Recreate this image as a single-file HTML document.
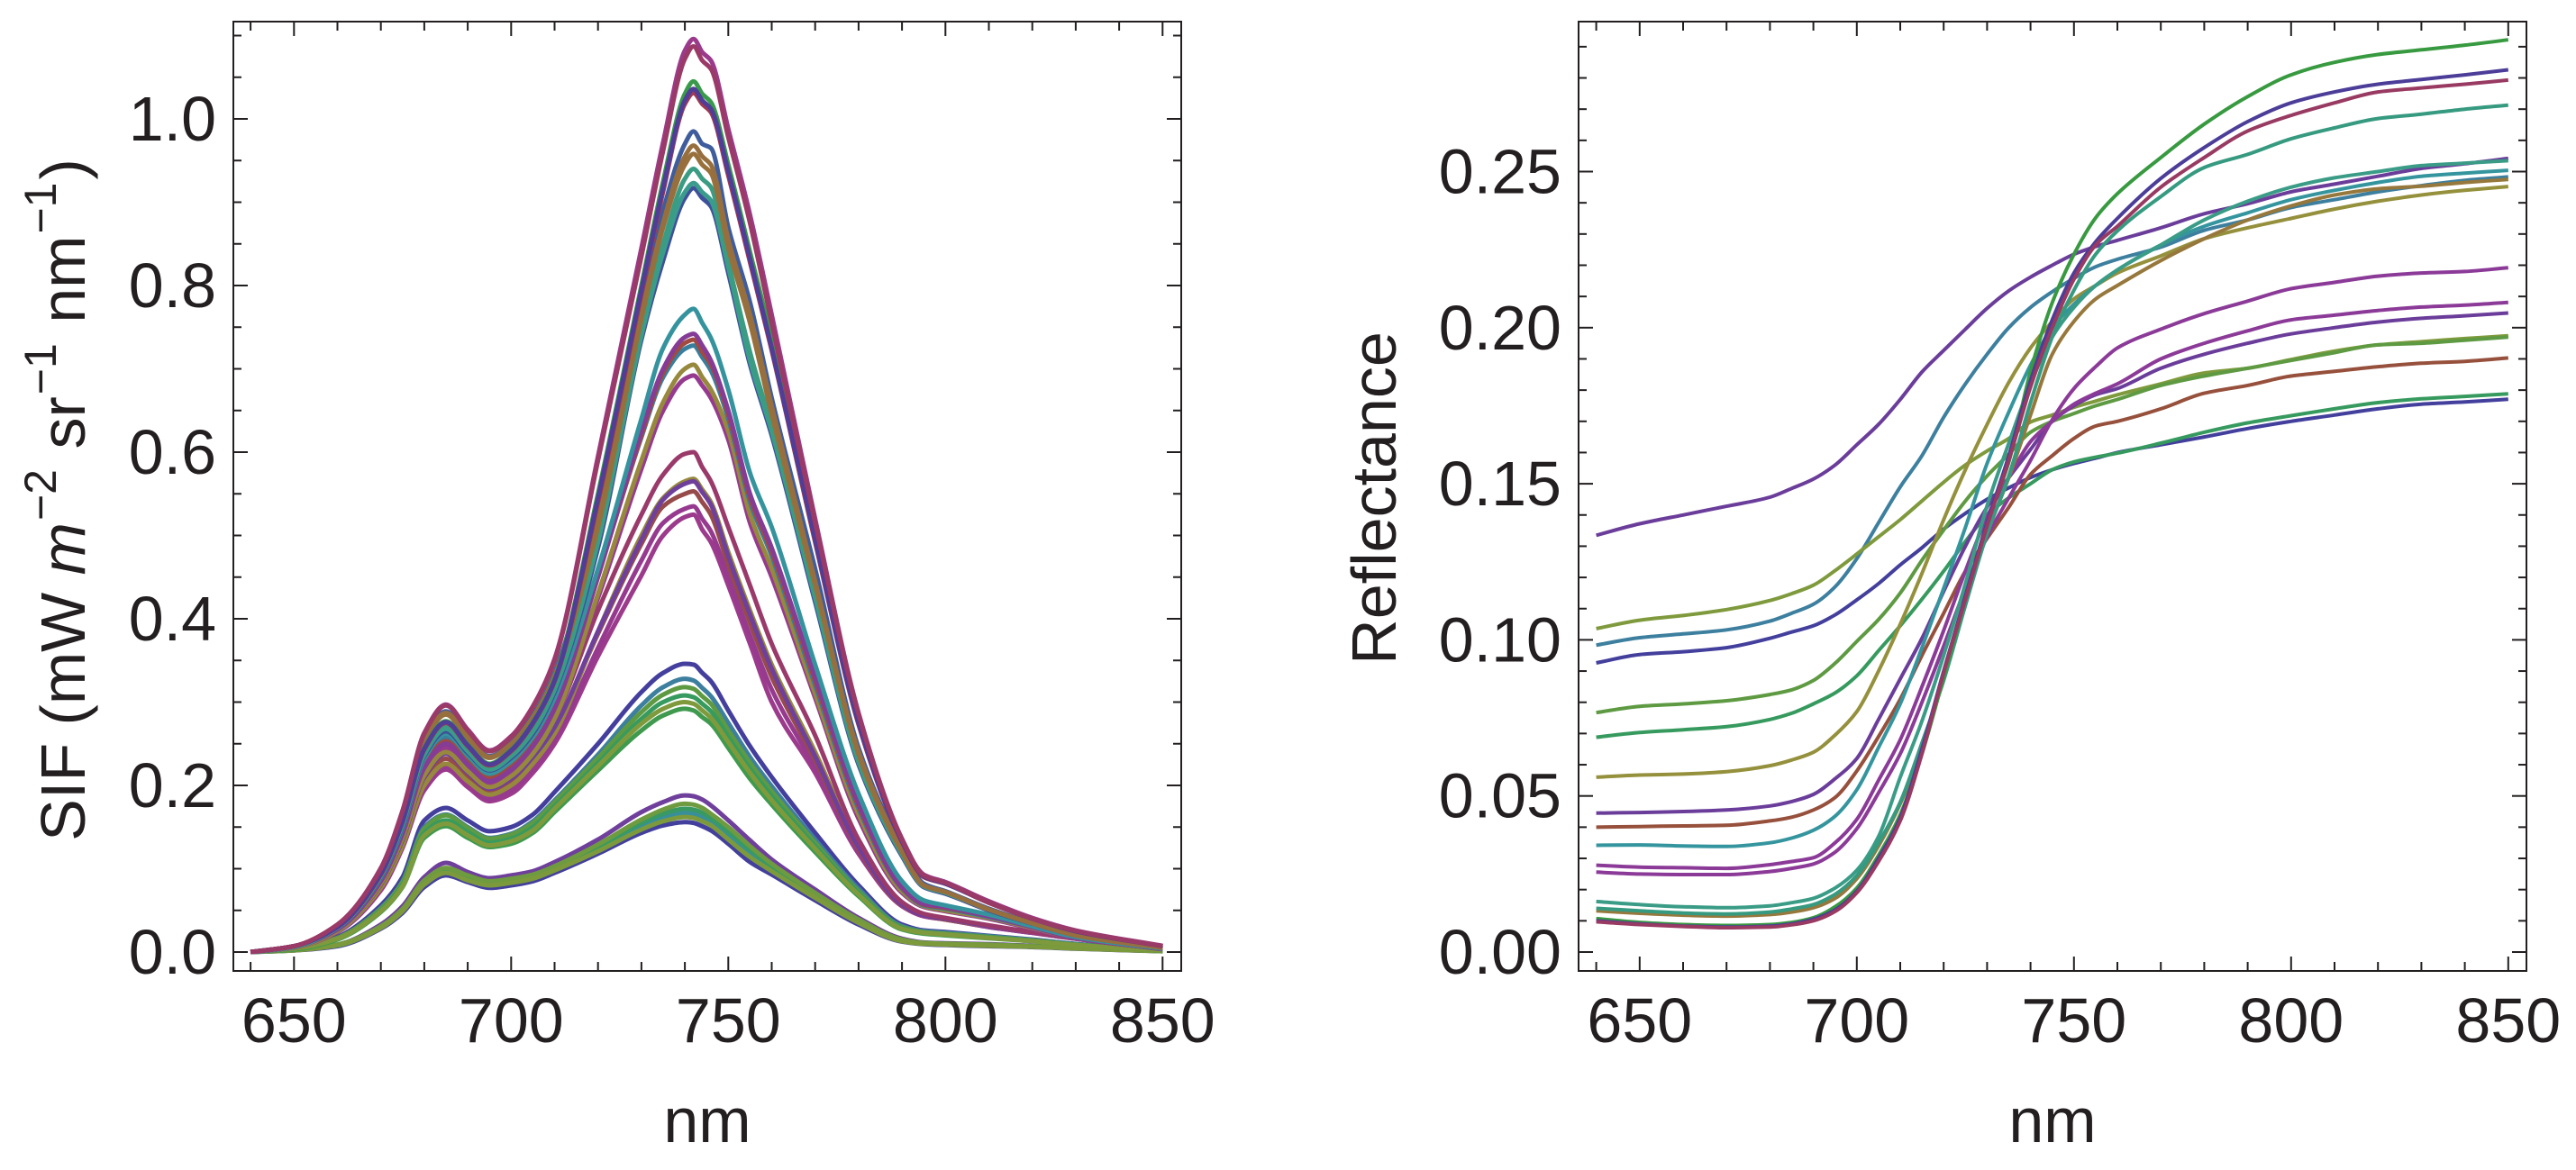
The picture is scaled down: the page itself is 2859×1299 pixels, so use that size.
<!DOCTYPE html>
<html lang="en">
<head>
<meta charset="utf-8">
<title>SIF and Reflectance spectra</title>
<style>
html,body{margin:0;padding:0;background:#fff;}
svg{display:block;}
text{font-family:"Liberation Sans",sans-serif;fill:#231f20;}
</style>
</head>
<body>
<svg id="chart" xmlns="http://www.w3.org/2000/svg" width="2859" height="1299" viewBox="0 0 2859 1299">
  <rect x="0" y="0" width="2859" height="1299" fill="#ffffff"/>
  <g id="left-panel"></g>
  <g id="right-panel"></g>
  <text transform="translate(94 555) rotate(-90)" text-anchor="middle" font-size="70">SIF (mW <tspan font-style="italic">m</tspan><tspan font-size="50" dx="2" dy="-32">−2</tspan><tspan dx="3" dy="32"> sr</tspan><tspan font-size="50" dx="2" dy="-32">−1</tspan><tspan dx="3" dy="32"> nm</tspan><tspan font-size="50" dx="2" dy="-32">−1</tspan><tspan dx="3" dy="32">)</tspan></text>
  <text transform="translate(1549 553) rotate(-90)" text-anchor="middle" font-size="70">Reflectance</text>
  <text x="785" y="1268" text-anchor="middle" font-size="70">nm</text>
  <text x="2278" y="1268" text-anchor="middle" font-size="70">nm</text>
</svg>
<script>
// ---------- shared tick data ----------
const xMajorTicks = [650, 700, 750, 800, 850];
const xTickLabels = ["650", "700", "750", "800", "850"];
const xMinorTicks = [640, 660, 670, 680, 690, 710, 720, 730, 740, 760, 770, 780, 790, 810, 820, 830, 840];

const sifMajorTicks = [0, 0.2, 0.4, 0.6, 0.8, 1.0];
const sifTickLabels = ["0.0", "0.2", "0.4", "0.6", "0.8", "1.0"];
const sifMinorTicks = [0.05, 0.1, 0.15, 0.25, 0.3, 0.35, 0.45, 0.5, 0.55, 0.65, 0.7, 0.75, 0.85, 0.9, 0.95, 1.05, 1.1];

const refMajorTicks = [0, 0.05, 0.1, 0.15, 0.2, 0.25];
const refTickLabels = ["0.00", "0.05", "0.10", "0.15", "0.20", "0.25"];
const refMinorTicks = [0.01, 0.02, 0.03, 0.04, 0.06, 0.07, 0.08, 0.09, 0.11, 0.12, 0.13, 0.14, 0.16, 0.17, 0.18, 0.19, 0.21, 0.22, 0.23, 0.24, 0.26, 0.27, 0.28, 0.29];

// ---------- SIF spectra ----------
const sifWavelengths = [640,650,660,670,675,680,685,690,695,700,705,710,720,730,735,740,742,744,746,750,755,760,770,780,790,795,800,810,820,830,850];

const sifG6 = [0,.002,.007,.028,.047,.078,.092,.084,.077,.08,.085,.095,.118,.143,.152,.156,.155,.151,.146,.13,.108,.093,.062,.033,.0125,.0095,.0085,.007,.006,.004,.001];
const sifG1 = [0,.003,.009,.033,.055,.09,.107,.096,.0886,.092,.097,.108,.135,.168,.18,.188,.187,.183,.176,.158,.134,.111,.075,.041,.016,.0115,.0105,.0095,.0075,.005,.0012];
const sifG4 = [0,.003,.008,.03,.05,.083,.097,.089,.083,.086,.09,.1,.124,.151,.162,.167,.166,.162,.156,.14,.119,.1,.067,.036,.014,.0102,.0094,.008,.0065,.0045,.0011];
const sifG3 = [0,.003,.008,.03,.051,.084,.099,.09,.084,.087,.092,.101,.126,.155,.166,.172,.171,.167,.161,.145,.123,.103,.069,.037,.0145,.0105,.0098,.0085,.007,.0048,.0011];
const sifG2 = [0,.003,.009,.031,.052,.086,.101,.092,.085,.088,.093,.103,.129,.159,.171,.178,.177,.173,.166,.15,.127,.106,.071,.039,.015,.011,.01,.009,.007,.005,.0012];
const sifG5 = [0,.002,.008,.029,.049,.081,.095,.086,.08,.083,.088,.098,.121,.147,.157,.162,.161,.157,.152,.135,.114,.097,.065,.035,.013,.0098,.009,.0075,.0063,.0042,.001];
const sifF1 = [0,.004,.018,.056,.09,.158,.173,.158,.145,.15,.165,.192,.25,.312,.335,.346,.345,.335,.325,.29,.247,.21,.143,.08,.033,.026,.024,.0195,.015,.0097,.002];
const sifF2 = [0,.004,.017,.053,.085,.15,.165,.15,.137,.142,.157,.182,.237,.296,.318,.328,.326,.317,.307,.275,.234,.199,.135,.076,.031,.025,.023,.019,.0145,.0095,.002];
const sifF3 = [0,.004,.017,.052,.084,.148,.164,.149,.136,.141,.155,.18,.233,.288,.309,.318,.316,.307,.298,.266,.227,.193,.131,.073,.03,.024,.022,.018,.014,.009,.002];
const sifF4 = [0,.004,.016,.05,.081,.143,.158,.144,.131,.136,.15,.175,.227,.28,.3,.308,.306,.298,.289,.258,.22,.187,.127,.071,.029,.023,.021,.0175,.0135,.009,.002];
const sifF6 = [0,.003,.015,.048,.078,.137,.151,.137,.126,.13,.143,.168,.218,.266,.284,.292,.29,.282,.274,.245,.208,.177,.12,.067,.027,.022,.02,.0165,.013,.0085,.002];
const sifF5 = [0,.004,.016,.049,.079,.14,.154,.14,.128,.133,.146,.172,.223,.274,.292,.3,.298,.29,.281,.252,.215,.182,.124,.069,.028,.023,.021,.017,.013,.0085,.002];
const sifE5 = [0,.005,.024,.074,.125,.194,.219,.198,.181,.19,.215,.25,.355,.452,.5,.522,.525,.507,.492,.44,.37,.3,.215,.118,.055,.043,.039,.03,.023,.016,.0035];
const sifE4 = [0,.005,.024,.075,.127,.196,.222,.201,.184,.195,.22,.255,.365,.47,.515,.532,.535,.52,.505,.45,.38,.315,.222,.12,.056,.043,.039,.03,.023,.016,.0035];
const sifE3b = [0,.006,.026,.079,.132,.205,.232,.21,.192,.204,.23,.268,.382,.49,.535,.55,.553,.54,.525,.465,.395,.33,.23,.123,.056,.044,.039,.031,.024,.016,.0035];
const sifE2 = [0,.005,.025,.077,.128,.2,.226,.205,.189,.2,.226,.262,.385,.5,.545,.565,.568,.555,.54,.48,.41,.345,.24,.128,.058,.0455,.04,.031,.024,.0165,.0035];
const sifE3 = [0,.006,.026,.081,.135,.21,.238,.215,.196,.208,.234,.27,.385,.495,.543,.562,.565,.552,.537,.475,.405,.34,.235,.126,.057,.044,.04,.031,.024,.0165,.0035];
const sifE1 = [0,.006,.027,.083,.139,.216,.244,.22,.2,.213,.24,.28,.41,.525,.573,.598,.6,.582,.565,.51,.44,.37,.26,.135,.06,.046,.041,.032,.024,.0166,.0035];
const sifD6 = [0,.006,.027,.083,.14,.217,.245,.22,.2,.214,.242,.285,.425,.58,.65,.688,.692,.68,.665,.615,.515,.45,.305,.16,.071,.054,.049,.04,.028,.016,.004];
const sifD5 = [0,.006,.026,.082,.137,.212,.24,.217,.198,.211,.238,.28,.43,.59,.66,.7,.705,.69,.675,.625,.525,.46,.31,.165,.073,.055,.05,.041,.029,.017,.004];
const sifD4 = [0,.006,.028,.088,.147,.228,.258,.232,.212,.226,.255,.3,.455,.618,.69,.724,.728,.714,.698,.64,.54,.475,.32,.172,.076,.056,.052,.042,.03,.017,.004];
const sifD3 = [0,.006,.028,.086,.144,.224,.253,.228,.209,.222,.25,.295,.452,.62,.695,.731,.735,.72,.705,.645,.545,.48,.325,.175,.077,.057,.053,.043,.03,.017,.004];
const sifD2 = [0,.006,.027,.085,.142,.221,.25,.225,.205,.219,.247,.292,.45,.625,.7,.738,.742,.728,.71,.65,.55,.485,.33,.178,.078,.058,.054,.043,.03,.017,.004];
const sifD1 = [0,.006,.029,.089,.149,.232,.262,.236,.214,.229,.258,.305,.46,.64,.725,.765,.772,.755,.737,.675,.575,.51,.345,.19,.085,.062,.056,.045,.031,.018,.004];
const sifC6 = [0,.006,.029,.09,.151,.235,.265,.239,.218,.233,.262,.312,.485,.735,.83,.905,.917,.905,.895,.815,.705,.62,.42,.225,.115,.078,.07,.05,.034,.02,.005];
const sifC5 = [0,.006,.029,.091,.153,.237,.268,.241,.219,.235,.265,.315,.492,.74,.84,.912,.923,.912,.902,.822,.71,.625,.425,.228,.117,.079,.071,.051,.0345,.02,.005];
const sifC4 = [0,.007,.03,.092,.155,.241,.272,.244,.221,.237,.268,.318,.5,.75,.85,.928,.94,.928,.918,.828,.72,.63,.43,.23,.118,.079,.071,.051,.0345,.02,.005];
const sifC1 = [0,.007,.032,.098,.165,.256,.289,.259,.235,.251,.284,.335,.525,.775,.89,.97,.985,.97,.965,.87,.78,.665,.46,.245,.125,.082,.073,.052,.035,.02,.005];
const sifC3 = [0,.007,.031,.097,.162,.252,.285,.256,.233,.249,.28,.33,.51,.76,.87,.945,.958,.945,.935,.845,.755,.645,.44,.237,.12,.08,.072,.051,.0345,.02,.005];
const sifC2 = [0,.007,.032,.098,.164,.254,.287,.258,.234,.25,.282,.332,.518,.765,.875,.955,.968,.955,.945,.855,.765,.655,.445,.24,.122,.08,.072,.051,.0345,.02,.005];
const sifB1 = [0,.007,.03,.094,.158,.245,.277,.249,.226,.243,.276,.328,.55,.8,.925,1.03,1.045,1.03,1.02,.945,.84,.735,.5,.279,.134,.092,.083,.06,.04,.0255,.007];
const sifB3 = [0,.007,.03,.093,.157,.243,.275,.247,.224,.241,.274,.325,.54,.79,.913,1.018,1.031,1.018,1.008,.932,.828,.722,.492,.273,.132,.09,.082,.059,.04,.025,.007];
const sifB2 = [0,.007,.03,.094,.157,.244,.276,.248,.225,.242,.275,.326,.545,.795,.918,1.022,1.036,1.022,1.012,.937,.832,.725,.495,.275,.133,.091,.082,.06,.04,.025,.007];
const sifA1 = [0,.007,.033,.101,.17,.263,.297,.267,.242,.259,.295,.352,.595,.845,.972,1.082,1.096,1.08,1.07,.988,.885,.765,.52,.287,.136,.093,.084,.061,.041,.026,.0075];
const sifA2 = [0,.007,.033,.1,.169,.262,.296,.266,.241,.258,.294,.35,.59,.835,.962,1.072,1.087,1.07,1.06,.978,.875,.755,.515,.285,.135,.092,.083,.06,.04,.0255,.007];

const sifSeries = [sifG6,sifG1,sifG4,sifG3,sifG2,sifG5,sifF1,sifF2,sifF3,sifF4,sifF6,sifF5,sifE5,sifE4,sifE3b,sifE2,sifE3,sifE1,sifD6,sifD5,sifD4,sifD3,sifD2,sifD1,sifC6,sifC5,sifC4,sifC1,sifC3,sifC2,sifB1,sifB3,sifB2,sifA1,sifA2];
const sifColors = ["#433f9c","#6f3f9c","#388f9a","#389a62","#6e9a40","#7c9a3c","#443f9c","#3d7f9e","#5e9a42","#379a5e","#3f9a4e","#7f9a3c","#9c3a8c","#963a90","#974a4a","#96883c","#6f3f9c","#9a3a6a","#963a90","#96883c","#387f9e","#a04a40","#843c96","#35939e","#3f509a","#3a9c8c","#3a9c82","#3f5d9d","#97703c","#976f3e","#389a4a","#a03a50","#4f3d98","#9b3a8c","#9a3a66"];

// ---------- Reflectance spectra ----------
const refWavelengths = [640,650,660,670,680,685,690,695,700,705,710,715,720,725,730,735,740,745,750,755,760,770,780,790,800,810,820,830,840,850];

const refPurpleHigh = [.1335,.1372,.14,.1428,.1457,.1485,.1515,.156,.1625,.169,.177,.1858,.1927,.1995,.2062,.2118,.2162,.22,.2235,.226,.228,.232,.2365,.2397,.2435,.246,.2485,.251,.2525,.2542];
const refBlueTeal = [.0983,.1007,.1019,.1032,.106,.1085,.1114,.117,.126,.1375,.149,.159,.1713,.182,.1915,.2,.2065,.2115,.2158,.2195,.2219,.2258,.2312,.2345,.2385,.241,.2435,.2455,.2472,.2483];
const refBlueFlat = [.0926,.0953,.0962,.0975,.1005,.1025,.1045,.108,.1128,.118,.124,.1295,.1355,.1405,.145,.1487,.152,.1545,.1565,.1582,.16,.1625,.165,.1677,.17,.172,.174,.1755,.1762,.1771];
const refGreenFlat = [.0688,.0703,.0712,.0722,.0745,.0765,.0795,.083,.0885,.0965,.1045,.113,.122,.1315,.14,.1455,.15,.1545,.157,.1585,.1598,.163,.1665,.1695,.1718,.174,.176,.1772,.178,.1788];
const refOliveGreen = [.1036,.1063,.1078,.1097,.1126,.1148,.1175,.1222,.1275,.133,.1385,.1445,.1505,.156,.1605,.1645,.1698,.172,.1745,.1765,.1785,.182,.1855,.187,.1898,.1925,.1945,.1955,.1965,.1974];
const refGreenMid = [.0767,.0787,.0795,.0805,.0825,.084,.087,.0925,.0995,.1065,.115,.1255,.1352,.1445,.1525,.1595,.1665,.17,.1725,.175,.177,.1815,.1845,.187,.1895,.192,.1945,.195,.196,.197];
const refOlive = [.056,.0567,.057,.0578,.0597,.0615,.064,.0695,.077,.09,.105,.1213,.1385,.1545,.169,.1825,.1935,.202,.2092,.2135,.2175,.223,.2285,.232,.235,.238,.2405,.2425,.244,.2452];
const refBrownLow = [.04,.0402,.0404,.0406,.042,.0432,.0455,.0495,.058,.069,.081,.095,.1085,.122,.1325,.1425,.153,.159,.1645,.1685,.17,.174,.179,.1815,.1845,.186,.1875,.1886,.1892,.1903];
const refPurpleDark = [.0445,.0447,.045,.0455,.0468,.0482,.0505,.0555,.062,.0745,.0875,.1005,.1155,.13,.1425,.152,.161,.17,.175,.1785,.1805,.187,.1915,.195,.198,.2,.2018,.203,.2038,.2047];
const refPurpleMid = [.0278,.0272,.027,.0268,.028,.029,.0302,.035,.0425,.055,.068,.085,.103,.122,.1395,.152,.1635,.17,.1755,.179,.182,.19,.195,.199,.2025,.204,.2055,.2066,.2072,.2081];
const refPurpleLow = [.0256,.025,.0248,.0248,.0258,.0268,.0282,.032,.0395,.051,.0635,.08,.098,.1165,.133,.1455,.1575,.1705,.1805,.1875,.1935,.1995,.2045,.2085,.2125,.2145,.2165,.2175,.218,.2192];
const refTealMid = [.0342,.0343,.034,.0338,.035,.0365,.039,.0435,.052,.0655,.0795,.0975,.1165,.136,.1565,.173,.188,.2,.2075,.2135,.2185,.2265,.2325,.2368,.241,.244,.2465,.2485,.2495,.2504];
const refTealHigh = [.0162,.0152,.0145,.0142,.0148,.0158,.0172,.0205,.0262,.037,.056,.074,.095,.118,.143,.163,.182,.197,.2065,.2135,.2185,.2265,.2345,.2405,.245,.248,.25,.2519,.2527,.2535];
const refBrownHigh = [.0132,.0124,.0118,.0115,.012,.0128,.0142,.0172,.0235,.034,.0475,.065,.088,.112,.134,.152,.172,.1915,.202,.2092,.2135,.2215,.2285,.2345,.239,.2425,.2445,.2453,.2465,.2475];
const refTealUpper = [.014,.0132,.0125,.0122,.0128,.0138,.0152,.0185,.0245,.035,.048,.067,.087,.111,.134,.1525,.176,.197,.212,.2235,.231,.242,.2513,.2555,.2605,.264,.267,.2684,.27,.2713];
const refGreenTop = [.0107,.0095,.0088,.0085,.0088,.0095,.011,.0145,.0205,.031,.044,.0635,.088,.113,.1375,.157,.186,.208,.2235,.2352,.2429,.2545,.2652,.274,.281,.285,.2875,.289,.2905,.2922];
const refBlueTop = [.01,.009,.0083,.008,.0083,.009,.0105,.0135,.0195,.03,.043,.065,.09,.114,.1375,.159,.183,.2025,.2175,.2275,.235,.2478,.2577,.266,.272,.2755,.278,.2795,.281,.2826];
const refCrimsonTop = [.0097,.0088,.0082,.0078,.008,.0087,.01,.013,.019,.029,.042,.0635,.0895,.113,.1365,.1575,.181,.2,.2155,.2265,.2325,.245,.2545,.263,.268,.272,.2755,.2768,.278,.2793];

const refSeries = [refPurpleHigh,refBlueTeal,refBlueFlat,refGreenFlat,refOliveGreen,refGreenMid,refOlive,refBrownLow,refPurpleDark,refPurpleMid,refPurpleLow,refTealMid,refTealHigh,refBrownHigh,refTealUpper,refGreenTop,refBlueTop,refCrimsonTop];
const refColors = ["#6b3d9a","#3d7f9e","#433f9c","#369a5e","#7f9a3c","#5e9a42","#94903c","#96503c","#6b3d9a","#8b3a98","#8b3a98","#35959e","#3a9c86","#97783c","#369a80","#389a40","#4b3d98","#983a62"];

// ---------- drawing ----------
const SVG_NS = "http://www.w3.org/2000/svg";
const INK = "#231f20";

function smoothPath(px, py) {
  const n = px.length;
  const sec = [];
  for (let i = 0; i < n - 1; i++) sec.push((py[i + 1] - py[i]) / (px[i + 1] - px[i]));
  const m = [sec[0]];
  for (let i = 1; i < n - 1; i++) {
    if (sec[i - 1] * sec[i] <= 0) { m.push(0); continue; }
    const h0 = px[i] - px[i - 1], h1 = px[i + 1] - px[i];
    m.push((h0 + h1) * 3 / ((2 * h1 + h0) / sec[i - 1] + (h1 + 2 * h0) / sec[i]));
  }
  m.push(sec[n - 2]);
  let d = "M" + px[0].toFixed(1) + " " + py[0].toFixed(1);
  for (let i = 0; i < n - 1; i++) {
    const h = (px[i + 1] - px[i]) / 3;
    d += "C" + (px[i] + h).toFixed(1) + " " + (py[i] + m[i] * h).toFixed(1) + " " +
         (px[i + 1] - h).toFixed(1) + " " + (py[i + 1] - m[i + 1] * h).toFixed(1) + " " +
         px[i + 1].toFixed(1) + " " + py[i + 1].toFixed(1);
  }
  return d;
}

function tickLine(parent, x1, y1, x2, y2) {
  const el = document.createElementNS(SVG_NS, "line");
  el.setAttribute("x1", x1); el.setAttribute("y1", y1);
  el.setAttribute("x2", x2); el.setAttribute("y2", y2);
  el.setAttribute("stroke", INK);
  el.setAttribute("stroke-width", "2");
  
  
  parent.appendChild(el);
}

function tickText(parent, x, y, anchor, label) {
  const el = document.createElementNS(SVG_NS, "text");
  el.setAttribute("x", x); el.setAttribute("y", y);
  el.setAttribute("text-anchor", anchor);
  el.setAttribute("font-size", "70");
  el.textContent = label;
  
  
  parent.appendChild(el);
}

function drawPanel(parent, cfg) {
  const L = cfg.left, R = cfg.right, T = 24, B = 1078;
  const xAxis = w => cfg.x650 + (w - 650) * 4.82;
  const yAxis = v => 1057 - v * cfg.yScale;

  const lines = document.createElementNS(SVG_NS, "g");
  
  
  parent.appendChild(lines);

  const px = cfg.wavelengths.map(xAxis);
  cfg.series.forEach((values, i) => {
    const path = document.createElementNS(SVG_NS, "path");
    path.setAttribute("d", smoothPath(px, values.map(yAxis)));
    path.setAttribute("fill", "none");
    path.setAttribute("stroke", cfg.colors[i]);
    path.setAttribute("stroke-width", cfg.lineWidth);
    path.setAttribute("stroke-linejoin", "round");
    
    
    lines.appendChild(path);
  });

  const frame = document.createElementNS(SVG_NS, "rect");
  frame.setAttribute("x", L); frame.setAttribute("y", T);
  frame.setAttribute("width", R - L); frame.setAttribute("height", B - T);
  frame.setAttribute("fill", "none");
  frame.setAttribute("stroke", INK);
  frame.setAttribute("stroke-width", "2");
  
  
  parent.appendChild(frame);

  xMajorTicks.forEach((w, i) => {
    const x = xAxis(w);
    tickLine(parent, x, B, x, B - 16);
    tickLine(parent, x, T, x, T + 16);
    tickText(parent, x, 1157, "middle", xTickLabels[i]);
  });
  xMinorTicks.forEach(w => {
    const x = xAxis(w);
    tickLine(parent, x, B, x, B - 10);
    tickLine(parent, x, T, x, T + 10);
  });
  cfg.yMajor.forEach((v, i) => {
    const y = yAxis(v);
    tickLine(parent, L, y, L + 16, y);
    tickLine(parent, R, y, R - 16, y);
    tickText(parent, L - 19, y + 24, "end", cfg.yLabels[i]);
  });
  cfg.yMinor.forEach(v => {
    const y = yAxis(v);
    tickLine(parent, L, y, L + 9, y);
    tickLine(parent, R, y, R - 9, y);
  });
}

drawPanel(document.getElementById("left-panel"), {
  left: 259, right: 1311, x650: 326.3, yScale: 925, lineWidth: 5,
  wavelengths: sifWavelengths, series: sifSeries, colors: sifColors,
  yMajor: sifMajorTicks, yLabels: sifTickLabels, yMinor: sifMinorTicks
});
drawPanel(document.getElementById("right-panel"), {
  left: 1752, right: 2804, x650: 1819.8, yScale: 3466, lineWidth: 4,
  wavelengths: refWavelengths, series: refSeries, colors: refColors,
  yMajor: refMajorTicks, yLabels: refTickLabels, yMinor: refMinorTicks
});
</script>
</body>
</html>
